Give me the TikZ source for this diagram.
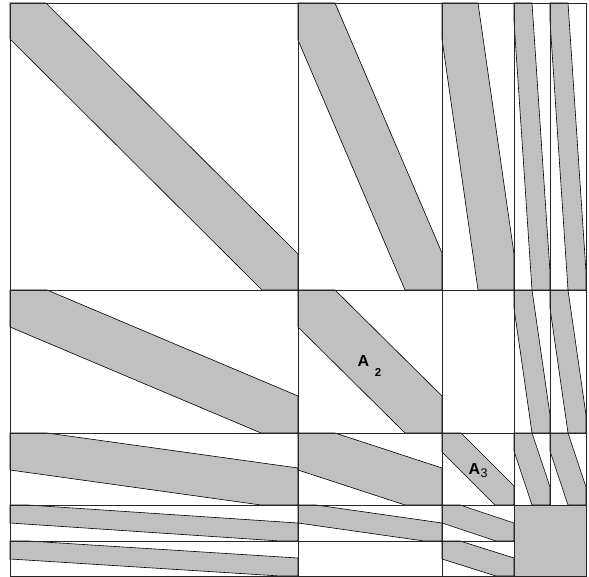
\documentclass[tikz,border=0pt]{standalone}
\usepackage{fontspec}
\setmainfont{Liberation Sans}
\definecolor{bandgray}{RGB}{192,192,192}
% band across one block: corners (x0,y0),(x1,y1), width d
\newcommand{\bandblock}[5]{%
  \filldraw[band] (#1,#2) -- (#1+#5,#2) -- (#3,#4-#5) -- (#3,#4) -- (#3-#5,#4) -- (#1,#2+#5) -- cycle;}

\begin{document}
\begin{tikzpicture}[x=1pt,y=-1pt,
  band/.style={fill=bandgray,draw=black,line width=0.6pt,line join=miter},
  grid/.style={draw=black!85,line width=0.9pt},
  lbl/.style={inner sep=0pt,anchor=base west,font=\bfseries\fontsize{16}{18}\selectfont}]
  \useasboundingbox (0,0) rectangle (589,577);
  % Row 0: y = 3..290
  \bandblock{10}{3}{298}{290}{36}
  \bandblock{298}{3}{442}{290}{37}
  \bandblock{442}{3}{514}{290}{36}
  \bandblock{514}{3}{550}{290}{18}
  \bandblock{550}{3}{586}{290}{18}
  % Row 1: y = 290..433 (block (1,2) is empty)
  \bandblock{10}{290}{298}{433}{37}
  \bandblock{298}{290}{442}{433}{37}
  \bandblock{514}{290}{550}{433}{18}
  \bandblock{550}{290}{586}{433}{18}
  % Row 2: y = 433..505
  \bandblock{10}{433}{298}{505}{37}
  \bandblock{298}{433}{442}{505}{37}
  \bandblock{442}{433}{514}{505}{19}
  \bandblock{514}{433}{550}{505}{18}
  \bandblock{550}{433}{586}{505}{18}
  % Rows 3 and 4: y = 505..541..576 (block (4,1) is empty)
  \bandblock{10}{505}{298}{541}{18}
  \bandblock{298}{505}{442}{541}{18}
  \bandblock{442}{505}{514}{541}{18}
  \bandblock{10}{541}{298}{576}{18}
  \bandblock{442}{541}{514}{576}{18}
  \fill[bandgray] (514,505) rectangle (586,576);
  % grid of blocks
  \draw[grid] (10,3) rectangle (586,576);
  \draw[grid] (298,3) -- (298,576) (442,3) -- (442,576) (514,3) -- (514,576) (550,3) -- (550,505);
  \draw[grid] (10,290) -- (586,290) (10,433) -- (586,433) (10,505) -- (586,505) (10,541) -- (514,541);
  % labels
  \node[lbl] (a2) at (357.5,366) {A\hspace{5.5pt}\raisebox{-10pt}{\fontsize{11.5}{12}\selectfont 2}};
  \node[lbl] (a3) at (468.3,474.3) {A\hspace{0.5pt}\raisebox{-3pt}{\mdseries\fontsize{12.5}{13}\selectfont 3}};
\end{tikzpicture}
\end{document}
